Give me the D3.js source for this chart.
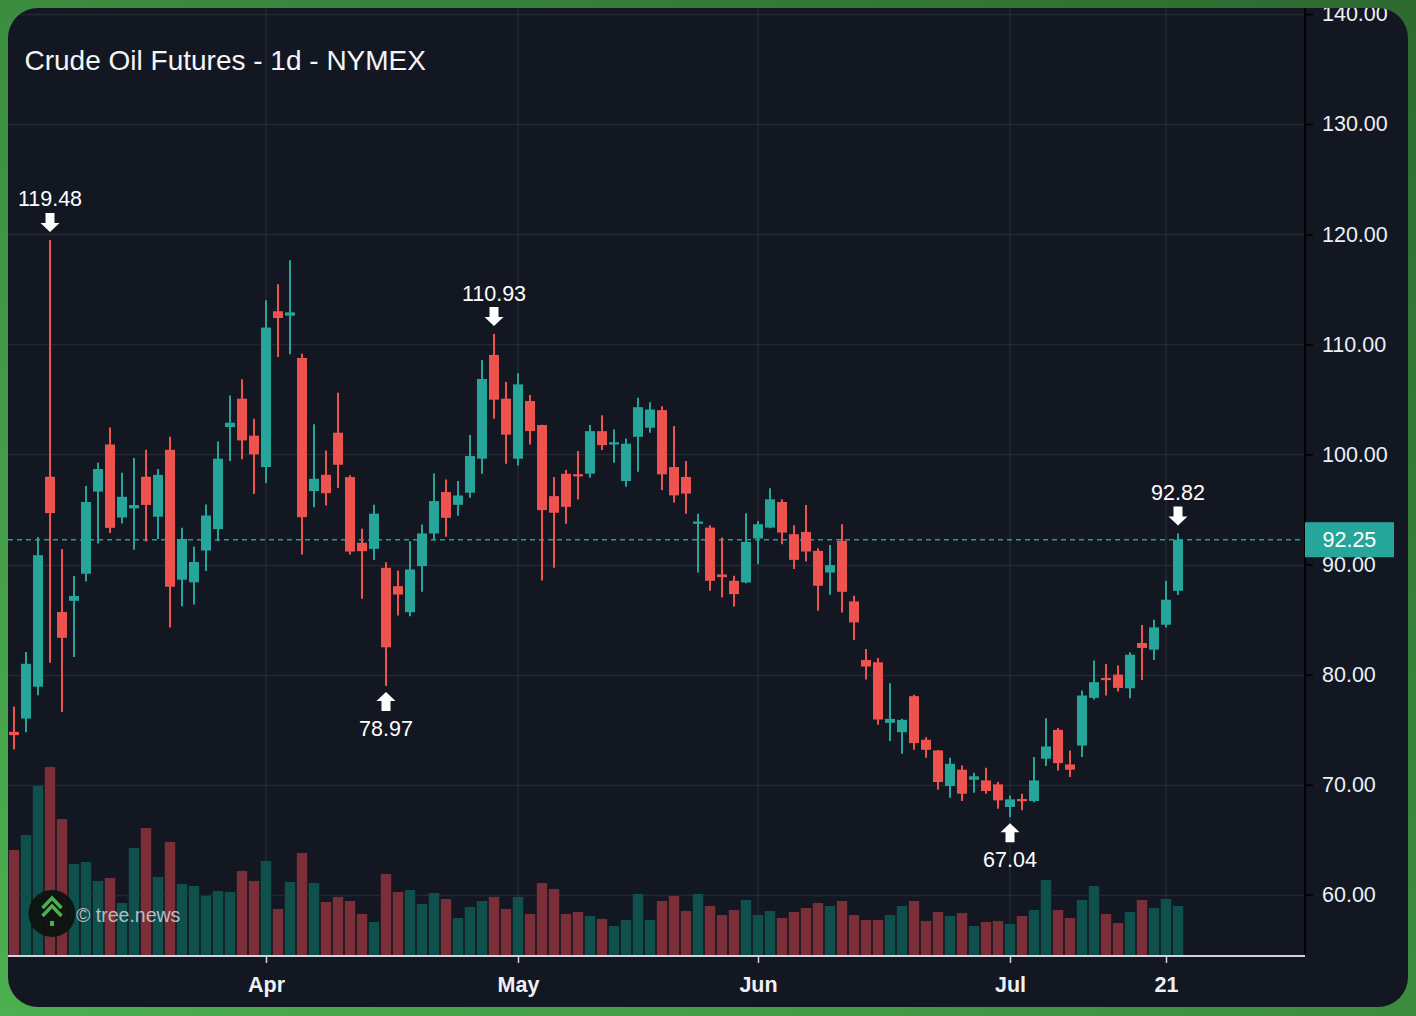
<!DOCTYPE html>
<html><head><meta charset="utf-8">
<script src="https://cdn.jsdelivr.net/npm/d3@7"></script>
<style>html,body{margin:0;padding:0;background:#3d8b40;}svg{display:block;}</style>
</head><body><svg id="c" width="1416" height="1016"></svg>
<script>
// ---------- DATA ----------
const candleOpen  = [74.8,76.0,78.9,97.97,85.69,86.7,89.16,96.62,100.9,94.27,95.1,97.97,94.34,100.42,88.62,88.38,91.27,93.21,102.48,105.06,101.7,98.85,113.0,112.6,108.76,96.67,98.15,101.97,97.94,91.97,91.42,89.7,88.03,85.67,89.85,92.82,96.58,95.42,96.52,99.61,109.03,105.06,99.61,104.85,102.67,96.21,98.24,98.2,98.25,102.11,100.9,97.58,101.6,102.42,104.02,98.85,97.95,93.7,93.35,89.1,88.52,88.37,92.36,93.35,95.68,92.75,92.96,91.24,89.27,92.15,86.65,81.33,81.12,75.62,74.77,78.04,74.08,73.11,69.88,71.36,70.45,70.39,70.03,67.98,68.7,68.52,72.36,74.98,71.84,73.56,77.89,79.7,80.0,78.76,82.87,82.27,84.53,87.61];
const candleHigh  = [77.1,82.06,92.49,119.48,91.41,88.95,97.13,99.25,102.44,98.34,99.68,100.42,98.67,101.6,93.33,91.64,95.45,101.18,105.36,106.82,103.24,114.0,115.45,117.64,109.15,102.73,100.36,105.61,98.1,93.24,95.42,90.21,89.45,92.12,93.64,98.27,97.73,97.58,101.76,108.58,110.93,106.58,107.36,105.39,102.7,97.94,98.58,100.3,102.66,103.56,102.27,101.45,105.14,104.74,104.38,102.57,99.4,94.62,93.56,92.45,88.97,94.65,93.96,96.92,95.92,93.56,95.41,91.48,91.78,93.66,87.16,82.33,81.51,79.21,75.98,78.16,74.32,73.15,72.45,71.75,71.09,71.54,70.24,69.03,69.18,72.51,76.04,75.14,73.11,78.55,81.27,80.97,80.82,82.02,84.5,84.98,88.52,92.82];
const candleLow   = [73.2,74.76,78.12,81.08,76.61,81.59,88.45,91.91,92.86,93.73,91.34,92.08,92.32,84.28,86.2,86.36,89.4,92.12,99.39,99.55,96.4,97.4,108.85,109.09,90.91,95.21,95.36,96.94,90.91,86.88,90.42,78.97,85.36,85.3,87.52,92.18,92.52,94.42,96.06,98.24,103.24,99.15,99.0,100.91,88.55,89.7,93.7,95.91,97.89,100.39,99.24,97.07,98.43,101.96,96.77,95.62,94.62,89.27,87.61,87.01,86.19,88.3,90.03,93.3,91.84,89.58,90.27,85.8,87.25,85.65,83.14,79.55,75.44,73.96,72.81,73.17,72.45,69.55,68.82,68.52,69.27,69.18,67.82,67.04,67.67,68.4,71.69,71.3,70.69,72.51,77.73,78.1,78.46,77.85,79.52,81.33,84.29,87.22];
const candleClose = [74.5,80.98,90.84,94.67,83.34,87.14,95.68,98.67,93.33,96.15,95.4,95.41,98.14,87.98,92.32,90.23,94.45,99.61,102.88,101.27,100.0,111.52,112.39,112.9,94.3,97.79,96.48,99.06,91.18,91.21,94.61,82.48,87.27,89.55,92.82,95.76,94.24,96.27,99.85,106.85,104.97,101.79,106.36,102.12,94.94,94.7,95.24,98.0,102.11,100.85,101.1,100.97,104.29,104.08,98.19,96.28,96.44,93.9,88.52,88.85,87.31,92.05,93.66,95.92,92.9,90.42,91.18,88.07,89.94,87.52,84.74,80.73,75.92,75.98,75.89,73.78,73.17,70.24,71.9,69.18,70.76,69.43,68.58,68.67,68.5,70.39,73.47,71.96,71.36,78.1,79.31,79.5,78.79,81.81,82.42,84.29,86.8,92.25];
// volume, thousands of contracts
const volumeK = [424,484,680,756,548,368,376,300,312,212,432,512,316,456,288,280,240,260,256,340,300,380,188,296,412,292,216,236,220,168,136,328,256,264,208,252,228,152,196,220,236,188,236,168,292,268,168,176,160,148,120,144,248,144,220,240,180,248,200,164,184,224,164,180,152,176,192,212,200,220,164,144,144,164,200,220,140,176,160,172,120,136,140,128,160,184,304,184,152,224,280,168,132,176,224,192,228,200];
const priceTicks = [60,70,80,90,100,110,120,130,140];
const timeTickLabels = ["Apr","May","Jun","Jul","21"];
const timeTickIndex = [21,42,62,83,96];
const lastPrice = 92.25;
const markerIndex = [3,40,97,31,83];
const markerText = ["119.48","110.93","92.82","78.97","67.04"];
const markerSide = ["high","high","high","low","low"];
const titleText = "Crude Oil Futures - 1d - NYMEX";

// ---------- STYLE ----------
const UP = "#26a69a", DOWN = "#ef5350";
const VOL_UP = "#0f4f4c", VOL_DOWN = "#7a2f38";
const BG = "#131722", GRID = "#242833";
const P = {left: 8, top: 8, right: 1408, bottom: 1007, plotRight: 1305, axisY: 956};

const svg = d3.select("#c");
const defs = svg.append("defs");
const grad = defs.append("linearGradient").attr("id","g").attr("x1","0").attr("y1","1").attr("x2","1").attr("y2","0");
grad.append("stop").attr("offset","0").attr("stop-color","#4caf50");
grad.append("stop").attr("offset","1").attr("stop-color","#2d6a30");
svg.append("rect").attr("width",1416).attr("height",1016).attr("fill","url(#g)");
defs.append("clipPath").attr("id","panel").append("rect")
  .attr("x",P.left).attr("y",P.top).attr("width",P.right-P.left).attr("height",P.bottom-P.top).attr("rx",30);
defs.append("clipPath").attr("id","plot").append("rect")
  .attr("x",P.left).attr("y",P.top).attr("width",P.plotRight-P.left).attr("height",P.axisY-P.top);

const root = svg.append("g").attr("clip-path","url(#panel)");
root.append("rect").attr("x",P.left).attr("y",P.top).attr("width",P.right-P.left).attr("height",P.bottom-P.top).attr("fill",BG);

const x = d3.scaleLinear().domain([0,97]).range([14,1178]);
const y = d3.scaleLinear().domain([60,140]).range([894.8,14]);
const vol = d3.scaleLinear().domain([0,1000]).range([0,250]);

const plot = root.append("g").attr("clip-path","url(#plot)");
// grid
plot.selectAll("line.hg").data(priceTicks).join("line")
  .attr("x1",P.left).attr("x2",P.plotRight).attr("y1",d=>Math.round(y(d))+0.5).attr("y2",d=>Math.round(y(d))+0.5)
  .attr("stroke",GRID).attr("stroke-width",1.5);
plot.selectAll("line.vg").data(timeTickIndex).join("line")
  .attr("y1",P.top).attr("y2",P.axisY).attr("x1",d=>x(d)).attr("x2",d=>x(d))
  .attr("stroke",GRID).attr("stroke-width",1.5);

const idx = d3.range(candleOpen.length);
const isUp = i => candleClose[i] >= candleOpen[i];

// volume
plot.selectAll("rect.v").data(idx).join("rect")
  .attr("x",i=>x(i)-5.2).attr("width",10.4)
  .attr("y",i=>P.axisY-vol(volumeK[i])).attr("height",i=>vol(volumeK[i]))
  .attr("fill",i=>isUp(i)?VOL_UP:VOL_DOWN);

// last price line
plot.append("line").attr("x1",P.left).attr("x2",P.plotRight)
  .attr("y1",y(lastPrice)).attr("y2",y(lastPrice))
  .attr("stroke",UP).attr("stroke-width",1.5).attr("stroke-dasharray","5,4").attr("opacity",0.95);

// candles
const cg = plot.append("g");
cg.selectAll("line.w").data(idx).join("line")
  .attr("x1",i=>x(i)).attr("x2",i=>x(i))
  .attr("y1",i=>y(candleHigh[i])).attr("y2",i=>y(candleLow[i]))
  .attr("stroke",i=>isUp(i)?UP:DOWN).attr("stroke-width",2);
cg.selectAll("rect.b").data(idx).join("rect")
  .attr("x",i=>x(i)-5).attr("width",10)
  .attr("y",i=>y(Math.max(candleOpen[i],candleClose[i])))
  .attr("height",i=>Math.max(2,Math.abs(y(candleOpen[i])-y(candleClose[i]))))
  .attr("fill",i=>isUp(i)?UP:DOWN);

// markers
const FONT = "'Liberation Sans', Arial, sans-serif";
markerIndex.forEach((mi,k)=>{
  const cx = x(mi);
  const g = plot.append("g");
  if (markerSide[k]==="high"){
    const tip = y(candleHigh[mi]) - 8, top = tip - 19;
    g.append("path").attr("d",`M${cx-4.5},${top}H${cx+4.5}V${top+10}H${cx+9.5}L${cx},${tip}L${cx-9.5},${top+10}H${cx-4.5}Z`).attr("fill","#fff");
    g.append("text").attr("x",cx).attr("y",top-6.5).attr("text-anchor","middle")
      .attr("font-family",FONT).attr("font-size",21.5).attr("fill","#fff").text(markerText[k]);
  } else {
    const tip = y(candleLow[mi]) + 6, bot = tip + 19;
    g.append("path").attr("d",`M${cx-4.5},${bot}H${cx+4.5}V${bot-10}H${cx+9.5}L${cx},${tip}L${cx-9.5},${bot-10}H${cx-4.5}Z`).attr("fill","#fff");
    g.append("text").attr("x",cx).attr("y",bot+25).attr("text-anchor","middle")
      .attr("font-family",FONT).attr("font-size",21.5).attr("fill","#fff").text(markerText[k]);
  }
});

// right axis
const ya = root.append("g").attr("transform",`translate(${P.plotRight},0)`)
  .call(d3.axisRight(y).tickValues(priceTicks).tickFormat(d3.format(".2f")).tickSize(8).tickPadding(9));
ya.select(".domain").remove();
ya.selectAll(".tick line").attr("stroke","#000").attr("stroke-width",1.5);
ya.selectAll(".tick text").attr("font-family",FONT).attr("font-size",21.5).attr("fill","#eef0f4");
root.append("line").attr("x1",P.plotRight).attr("x2",P.plotRight).attr("y1",P.top).attr("y2",P.axisY)
  .attr("stroke","#000").attr("stroke-width",2);

// last price label
root.append("line").attr("x1",P.plotRight).attr("x2",P.plotRight+8).attr("y1",y(lastPrice)).attr("y2",y(lastPrice)).attr("stroke",UP).attr("stroke-width",1.5);
root.append("rect").attr("x",P.plotRight).attr("y",y(lastPrice)-17.5).attr("width",89).attr("height",35).attr("fill",UP);
root.append("text").attr("x",P.plotRight+17.5).attr("y",y(lastPrice)).attr("dy","0.35em")
  .attr("font-family",FONT).attr("font-size",21.5).attr("fill","#fff").text(d3.format(".2f")(lastPrice));

// bottom axis
const xa = root.append("g").attr("transform",`translate(0,${P.axisY})`)
  .call(d3.axisBottom(x).tickValues(timeTickIndex).tickFormat((d,i)=>timeTickLabels[i]).tickSize(7).tickPadding(14));
xa.select(".domain").remove();
xa.selectAll(".tick line").attr("stroke","#d1d4dc").attr("stroke-width",1.5);
xa.selectAll(".tick text").attr("font-family",FONT).attr("font-size",21.5).attr("font-weight","bold").attr("fill","#eef0f4");
root.append("line").attr("x1",P.left).attr("x2",P.plotRight).attr("y1",P.axisY).attr("y2",P.axisY)
  .attr("stroke","#d1d4dc").attr("stroke-width",2);

// title
root.append("text").attr("x",24.5).attr("y",69.5).attr("font-family",FONT).attr("font-size",28)
  .attr("fill","#f4f5f7").text(titleText);

// watermark
const wm = root.append("g");
wm.append("circle").attr("cx",52).attr("cy",913.5).attr("r",23.5).attr("fill","#0d1310").attr("opacity",0.95);
[[898],[906]].forEach(([ay])=>{
  wm.append("polyline").attr("points",`${42.5},${ay+10} ${52},${ay} ${61.5},${ay+10}`)
    .attr("fill","none").attr("stroke","#4caf50").attr("stroke-width",3.5);
});
wm.append("rect").attr("x",50).attr("y",921).attr("width",4).attr("height",5).attr("fill","#4caf50");
wm.append("text").attr("x",76).attr("y",922).attr("font-family",FONT).attr("font-size",19.5)
  .attr("fill","#d0d3d8").attr("opacity",0.85).text("© tree.news");
</script></body></html>
